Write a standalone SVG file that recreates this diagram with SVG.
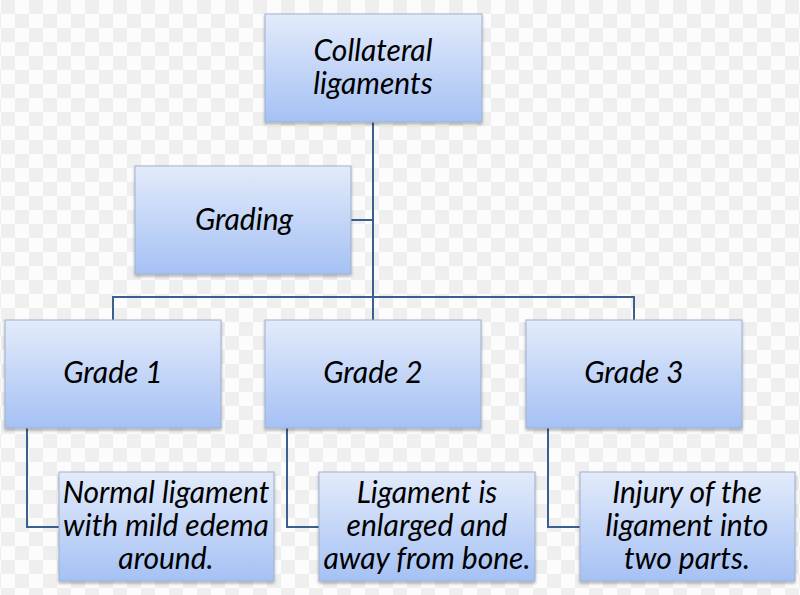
<svg xmlns="http://www.w3.org/2000/svg" width="800" height="595" viewBox="0 0 800 595">
<defs>
<pattern id="chk" patternUnits="userSpaceOnUse" x="1" y="0" width="28" height="28">
<rect width="28" height="28" fill="#efefef"/>
<rect x="14" y="0" width="14" height="14" fill="#fcfcfc"/>
<rect x="0" y="14" width="14" height="14" fill="#fcfcfc"/>
</pattern>
<linearGradient id="g" x1="0" y1="0" x2="0" y2="1">
<stop offset="0" stop-color="#e3ebfb"/>
<stop offset="1" stop-color="#a5c1f4"/>
</linearGradient>
<filter id="sh" x="-5%" y="-5%" width="110%" height="115%">
<feDropShadow dx="0" dy="2" stdDeviation="1.5" flood-color="#000" flood-opacity="0.3"/>
</filter>
</defs>
<style>
.box{fill:url(#g);stroke:#9fb1cb;stroke-width:1;filter:url(#sh)}
.t{font-family:Lato,"Open Sans","Liberation Sans",sans-serif;font-style:italic;font-size:30px;fill:#000;text-anchor:middle}
.c{fill:none;stroke:#3b5f8e;stroke-width:2}
</style>
<rect width="800" height="595" fill="url(#chk)"/>
<g id="connectors">
<path class="c" d="M373 122V297M351 220H373M113 320V297H634V320M373 297V320"/>
<path class="c" d="M27 428V527H59M287 428V527H319M548 428V527H580"/>
</g>
<g id="n-collateral"><rect class="box" x="265" y="14" width="217" height="108"/><text class="t" x="373" y="61">Collateral</text><text class="t" x="373" y="94">ligaments</text></g>
<g id="n-grading"><rect class="box" x="135" y="166" width="216" height="108"/><text class="t" x="244" y="230">Grading</text></g>
<g id="n-grade1"><rect class="box" x="5" y="320" width="216" height="108"/><text class="t" x="113" y="383">Grade 1</text></g>
<g id="n-grade2"><rect class="box" x="265" y="320" width="216" height="108"/><text class="t" x="373" y="383">Grade 2</text></g>
<g id="n-grade3"><rect class="box" x="526" y="320" width="216" height="108"/><text class="t" x="634" y="383">Grade 3</text></g>
<g id="n-leaf1"><rect class="box" x="59" y="472" width="215" height="109"/><text class="t" x="166" y="503">Normal ligament</text><text class="t" x="166" y="536">with mild edema</text><text class="t" x="166" y="569">around.</text></g>
<g id="n-leaf2"><rect class="box" x="319" y="472" width="216" height="109"/><text class="t" x="427" y="503">Ligament is</text><text class="t" x="427" y="536">enlarged and</text><text class="t" x="427" y="569">away from bone.</text></g>
<g id="n-leaf3"><rect class="box" x="580" y="472" width="215" height="109"/><text class="t" x="687" y="503">Injury of the</text><text class="t" x="687" y="536">ligament into</text><text class="t" x="687" y="569">two parts.</text></g>
</svg>
